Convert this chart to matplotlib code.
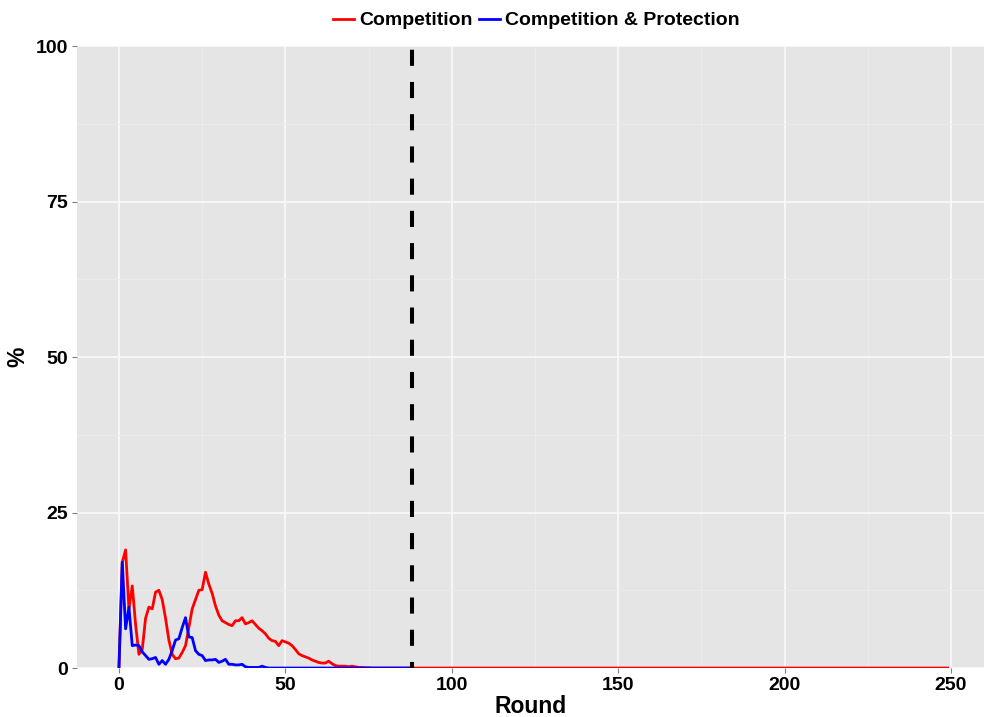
import matplotlib.pyplot as plt
from matplotlib.ticker import MultipleLocator
import numpy as np

plt.rcParams['font.family'] = ['Liberation Sans', 'DejaVu Sans']
plt.rcParams['font.weight'] = 'bold'

# values (% per round)
competition = [0, 17, 19, 9.5, 13.2, 7, 2.2, 3, 8, 9.8,
               9.5, 12.2, 12.5, 11, 8, 4.5, 2.2, 1.5, 1.6, 2.5,
               3.6, 6.5, 9.5, 11, 12.5, 12.6, 15.4, 13.5, 12, 10,
               8.5, 7.6, 7.3, 7, 6.8, 7.6, 7.6, 8.1, 7.1, 7.3,
               7.6, 7, 6.4, 6, 5.5, 4.8, 4.4, 4.3, 3.6, 4.4,
               4.2, 4, 3.6, 3, 2.3, 2, 1.8, 1.6, 1.3, 1.1,
               0.9, 0.8, 0.8, 1.1, 0.7, 0.4, 0.3, 0.3, 0.3, 0.2,
               0.3, 0.2, 0.1, 0.1, 0.05, 0.05]
competition += [0] * (250 - len(competition))

protection = [0, 17, 6.3, 9.8, 3.6, 3.7, 3.6, 2.6, 2, 1.4,
              1.5, 1.7, 0.6, 1.2, 0.6, 1.4, 2.8, 4.5, 4.7, 6.5,
              8.1, 5, 4.9, 2.8, 2.2, 2.0, 1.2, 1.3, 1.3, 1.4,
              0.9, 1.1, 1.4, 0.6, 0.6, 0.5, 0.5, 0.6, 0.2, 0.1,
              0.1, 0.1, 0.1, 0.3, 0.1]
protection += [0] * (89 - len(protection))

cutoff_round = 88

fig = plt.figure(figsize=(9.84, 7.17), dpi=100)
ax = fig.add_axes([0.0786, 0.0683, 0.9214, 0.8675])
ax.set_facecolor('#e5e5e5')
for s in ax.spines.values():
    s.set_visible(False)

ax.plot(range(len(competition)), competition, color='red', lw=2.0,
        label='Competition', solid_joinstyle='round')
ax.plot(range(len(protection)), protection, color='blue', lw=2.0,
        label='Competition & Protection', solid_joinstyle='round')
ax.axvline(cutoff_round, color='black', lw=2.9, linestyle=(2.5, (4, 4)))

ax.set_xlim(-12.5, 259.9)
ax.set_ylim(0, 100)
ax.xaxis.set_major_locator(MultipleLocator(50))
ax.xaxis.set_minor_locator(MultipleLocator(25))
ax.yaxis.set_major_locator(MultipleLocator(25))
ax.yaxis.set_minor_locator(MultipleLocator(12.5))
ax.grid(which='major', color='#f7f7f7', lw=1.4)
ax.grid(which='minor', color='#ececec', lw=0.7)
ax.set_axisbelow(True)
ax.tick_params(which='major', length=3.5, width=0.8, color='#7f7f7f',
               labelsize=14, labelcolor='black', pad=3)
ax.tick_params(which='minor', length=0)

ax.set_xlabel('Round', fontsize=16.5, fontweight='bold', labelpad=1)
ax.set_ylabel('%', fontsize=16.5, fontweight='bold', labelpad=5)

fig.legend(loc='upper center', bbox_to_anchor=(0.545, 1.008), ncol=2,
           frameon=False, fontsize=14, handlelength=1.1,
           handletextpad=0.25, columnspacing=0.3)

fig.savefig('out.png', dpi=100)
